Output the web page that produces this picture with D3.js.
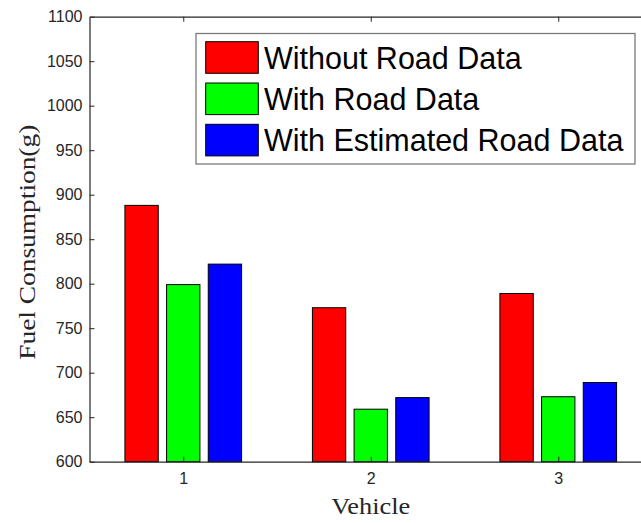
<!DOCTYPE html>
<html>
<head>
<meta charset="utf-8">
<script src="https://cdn.jsdelivr.net/npm/d3@7"></script>
<style>
  html, body { margin: 0; padding: 0; background: #fff; }
  svg { display: block; }
</style>
</head>
<body>
<svg id="chart" width="641" height="523"></svg>
<script>
// Fuel consumption per vehicle for three road-data scenarios
const vehicles = [1, 2, 3];
const seriesNames = ["Without Road Data", "With Road Data", "With Estimated Road Data"];
const withoutRoad = [888, 773, 789];
const withRoad = [799, 659, 673];
const withEstimatedRoad = [822, 672, 689];
const seriesColors = ["#ff0000", "#00ff00", "#0000ff"];
const yTicks = [600, 650, 700, 750, 800, 850, 900, 950, 1000, 1050, 1100];

const seriesValues = [withoutRoad, withRoad, withEstimatedRoad];

const svg = d3.select("#chart");
const plotLeft = 89.5, plotRight = 652, plotTop = 16.7, plotBottom = 461.7;

const x = d3.scaleLinear().domain([0.5, 3.5]).range([plotLeft, plotRight]);
const y = d3.scaleLinear().domain([600, 1100]).range([plotBottom, plotTop]);

const axisColor = "#262626";
const groupWidth = 2 / 3;
const slot = groupWidth / seriesNames.length;
const barWidth = slot * 0.8;

// Bars
const bars = svg.append("g");
seriesValues.forEach((vals, si) => {
  const offset = (si - (seriesNames.length - 1) / 2) * slot;
  bars.selectAll(null)
    .data(vehicles.map((v, i) => ({ v, val: vals[i] })))
    .enter().append("rect")
    .attr("x", d => x(d.v + offset - barWidth / 2))
    .attr("width", d => x(d.v + barWidth) - x(d.v))
    .attr("y", d => y(d.val))
    .attr("height", d => y(600) - y(d.val))
    .attr("fill", seriesColors[si])
    .attr("stroke", "#000")
    .attr("stroke-width", 1);
});

// Axes
const fmt = d3.format("d");
const yAxis = d3.axisLeft(y).tickValues(yTicks).tickFormat(fmt)
  .tickSizeInner(-5).tickSizeOuter(0).tickPadding(7);
const gy = svg.append("g").attr("transform", `translate(${plotLeft},0)`).call(yAxis);
const xAxis = d3.axisBottom(x).tickValues(vehicles).tickFormat(fmt)
  .tickSizeInner(-5).tickSizeOuter(0).tickPadding(11);
const gx = svg.append("g").attr("transform", `translate(0,${plotBottom})`).call(xAxis);
const xTop = d3.axisTop(x).tickValues(vehicles).tickSizeInner(-5).tickSizeOuter(0).tickFormat("");
const gxt = svg.append("g").attr("transform", `translate(0,${plotTop})`).call(xTop);

[gy, gx, gxt].forEach(g => {
  g.selectAll("path").attr("stroke", axisColor).attr("stroke-width", 1.2);
  g.selectAll("line").attr("stroke", axisColor);
  g.selectAll("text")
    .attr("fill", axisColor)
    .style("font-family", "'Liberation Sans', Arial, sans-serif")
    .style("font-size", "16px");
});

// Axis titles
svg.append("text")
  .attr("x", x(2))
  .attr("y", 514)
  .attr("text-anchor", "middle")
  .style("font-family", "'Liberation Serif', 'Times New Roman', serif")
  .style("font-size", "24px")
  .attr("fill", axisColor)
  .attr("textLength", 79)
  .attr("lengthAdjust", "spacingAndGlyphs")
  .text("Vehicle");

svg.append("text")
  .attr("transform", `translate(35,${(plotTop + plotBottom) / 2 + 3}) rotate(-90)`)
  .attr("text-anchor", "middle")
  .style("font-family", "'Liberation Serif', 'Times New Roman', serif")
  .style("font-size", "24px")
  .attr("fill", axisColor)
  .attr("textLength", 235)
  .attr("lengthAdjust", "spacingAndGlyphs")
  .text("Fuel Consumption(g)");

// Legend
const legend = svg.append("g");
legend.append("rect")
  .attr("x", 196).attr("y", 33.5)
  .attr("width", 439).attr("height", 130.5)
  .attr("fill", "#fff")
  .attr("stroke", "#7a7a7a")
  .attr("stroke-width", 1.3);
seriesNames.forEach((name, i) => {
  const cy = 57.5 + i * 41.3;
  legend.append("rect")
    .attr("x", 205.7).attr("y", cy - 15.8)
    .attr("width", 52.6).attr("height", 31.6)
    .attr("fill", seriesColors[i])
    .attr("stroke", "#000")
    .attr("stroke-width", 1);
  legend.append("text")
    .attr("x", 264)
    .attr("y", cy + 11)
    .style("font-family", "'Liberation Sans', Arial, sans-serif")
    .style("font-size", "30.5px")
    .attr("fill", "#000")
    .text(name);
});
</script>
</body>
</html>
